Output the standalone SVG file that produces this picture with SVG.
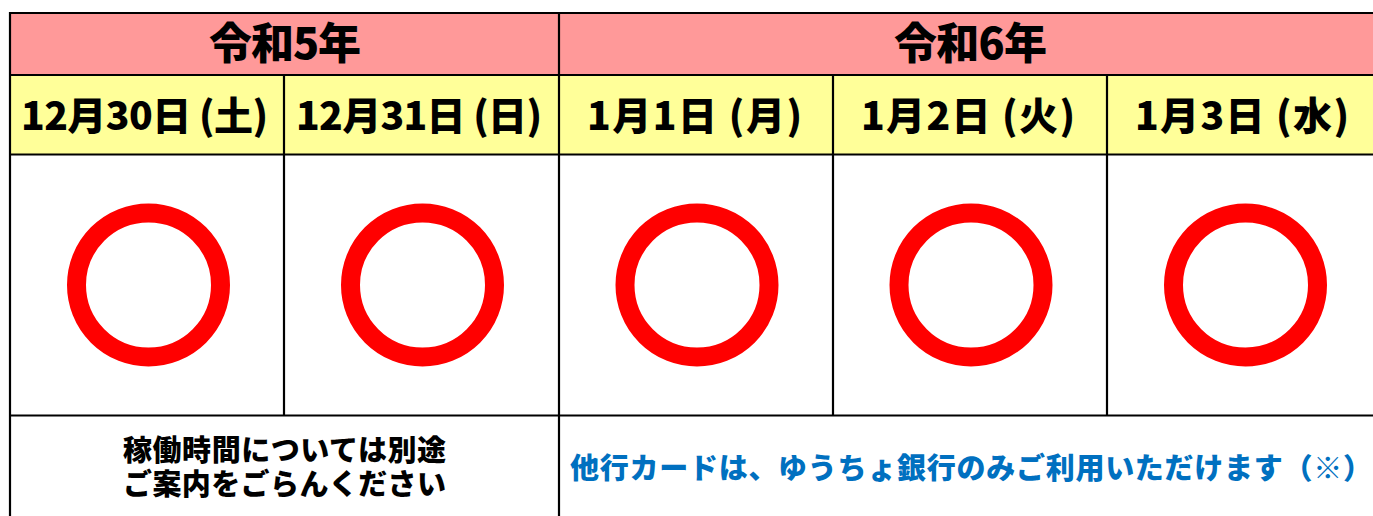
<svg xmlns="http://www.w3.org/2000/svg" width="1373" height="516" viewBox="0 0 1373 516">
<style>
.t{font-family:"Noto Sans CJK JP","Noto Sans CJK SC",sans-serif;font-weight:900;fill:#000}
.y{font-size:43px}.d{font-size:39px}.n{font-size:29px}
.b{font-size:29px;fill:#0070C0}
.l{stroke:#000;stroke-width:2.2;fill:none}
.c{fill:none;stroke:#f00;stroke-width:19}
</style>
<rect width="1373" height="516" fill="#fff"/>
<g id="header-r5"><rect x="10" y="13" width="549" height="62" fill="#FF9999"/><text class="t y" x="209" y="59" textLength="152">令和5年</text></g>
<g id="header-r6"><rect x="559" y="13" width="814" height="62" fill="#FF9999"/><text class="t y" x="894" y="59" textLength="153">令和6年</text></g>
<g id="d1"><rect x="10" y="75" width="274" height="80" fill="#FFFF99"/><text class="t d" x="21" y="130" textLength="247">12月30日 (土)</text></g>
<g id="d2"><rect x="284" y="75" width="275" height="80" fill="#FFFF99"/><text class="t d" x="296" y="130" textLength="246">12月31日 (日)</text></g>
<g id="d3"><rect x="559" y="75" width="274" height="80" fill="#FFFF99"/><text class="t d" x="587" y="130" textLength="215">1月1日 (月)</text></g>
<g id="d4"><rect x="833" y="75" width="274" height="80" fill="#FFFF99"/><text class="t d" x="861" y="130" textLength="214">1月2日 (火)</text></g>
<g id="d5"><rect x="1107" y="75" width="266" height="80" fill="#FFFF99"/><text class="t d" x="1135" y="130" textLength="214">1月3日 (水)</text></g>
<g id="m1"><circle class="c" cx="148.5" cy="285" r="72"/></g>
<g id="m2"><circle class="c" cx="422.500" cy="285" r="72"/></g>
<g id="m3"><circle class="c" cx="697" cy="285" r="72"/></g>
<g id="m4"><circle class="c" cx="971" cy="285" r="72"/></g>
<g id="m5"><circle class="c" cx="1245.5" cy="285" r="72"/></g>
<g id="note1"><text class="t n"><tspan x="123" y="461" textLength="323">稼働時間については別途</tspan><tspan x="123" y="495" textLength="323">ご案内をごらんください</tspan></text></g>
<g id="note2"><text class="t b" x="570" y="479" textLength="802">他行カードは、ゆうちょ銀行のみご利用いただけます（※）</text></g>
<g id="grid" class="l">
<path d="M10 13H1373M10 75H1373M10 154.500H1373M10 415.500H1373M10 12V516M559 13V516M284 75V415M833 75V415M1107 75V415"/>
</g>
</svg>
